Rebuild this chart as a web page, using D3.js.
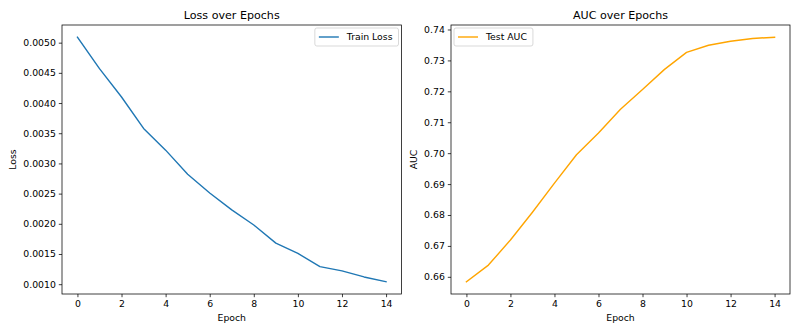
<!DOCTYPE html>
<html>
<head>
<meta charset="utf-8">
<script src="https://cdn.jsdelivr.net/npm/d3@7/dist/d3.min.js"></script>
<style>
  html, body { margin: 0; padding: 0; background: #fff; }
  svg { display: block; font-family: "DejaVu Sans", sans-serif; }
</style>
</head>
<body>
<svg id="chart" width="800" height="333"></svg>
<script>
// Training history per epoch
const epochs = [0, 1, 2, 3, 4, 5, 6, 7, 8, 9, 10, 11, 12, 13, 14];
const trainLoss = [0.00509, 0.00457, 0.00410, 0.00358, 0.00322, 0.00282, 0.00251, 0.00223,
                   0.00198, 0.00168, 0.00151, 0.00129, 0.00122, 0.00112, 0.00104];
const testAuc = [0.6584, 0.6638, 0.6719, 0.6809, 0.6903, 0.6995, 0.7065, 0.7142,
                 0.7206, 0.7271, 0.7326, 0.7349, 0.7362, 0.7371, 0.7375];

const xTicks = [0, 2, 4, 6, 8, 10, 12, 14];
const lossTicks = [0.0010, 0.0015, 0.0020, 0.0025, 0.0030, 0.0035, 0.0040, 0.0045, 0.0050];
const aucTicks = [0.66, 0.67, 0.68, 0.69, 0.70, 0.71, 0.72, 0.73, 0.74];

const svg = d3.select("#chart");

function panel(opts) {
  const { left, right, top, bottom, values, ticks, fmt, color, title, ylabel, ylabelGap, legend, legendLeft } = opts;
  const g = svg.append("g");

  // matplotlib-style 5% padding on both axes
  const xr = d3.extent(epochs), xpad = (xr[1] - xr[0]) * 0.05;
  const yr = d3.extent(values), ypad = (yr[1] - yr[0]) * 0.05;
  const x = d3.scaleLinear().domain([xr[0] - xpad, xr[1] + xpad]).range([left, right]);
  const y = d3.scaleLinear().domain([yr[0] - ypad, yr[1] + ypad]).range([bottom, top]);

  const line = d3.line().x((d, i) => x(epochs[i])).y(d => y(d));
  g.append("path")
    .datum(values)
    .attr("d", line)
    .attr("fill", "none")
    .attr("stroke", color)
    .attr("stroke-width", 1.4)
    .attr("stroke-linejoin", "round")
    .attr("stroke-linecap", "square");

  const xAxis = d3.axisBottom(x).tickValues(xTicks).tickSize(3.2).tickPadding(3).tickFormat(d3.format("d"));
  const yAxis = d3.axisLeft(y).tickValues(ticks).tickSize(3.2).tickPadding(3).tickFormat(fmt);

  const gx = g.append("g").attr("transform", `translate(0,${bottom})`).call(xAxis);
  const gy = g.append("g").attr("transform", `translate(${left},0)`).call(yAxis);
  [gx, gy].forEach(a => {
    a.select(".domain").remove();
    a.selectAll(".tick line").attr("stroke", "#000").attr("stroke-width", 0.75);
    a.selectAll(".tick text").attr("fill", "#000").style("font-size", "9.3px")
      .style("font-family", "'DejaVu Sans', sans-serif");
  });

  // frame
  g.append("rect")
    .attr("x", left).attr("y", top)
    .attr("width", right - left).attr("height", bottom - top)
    .attr("fill", "none").attr("stroke", "#000").attr("stroke-width", 0.75);

  g.append("text")
    .attr("x", (left + right) / 2).attr("y", 19)
    .attr("text-anchor", "middle")
    .style("font-size", "11.1px")
    .text(title);

  g.append("text")
    .attr("x", (left + right) / 2).attr("y", 321)
    .attr("text-anchor", "middle")
    .style("font-size", "9.3px")
    .text("Epoch");

  g.append("text")
    .attr("transform", `translate(${left - ylabelGap},${(top + bottom) / 2}) rotate(-90)`)
    .attr("text-anchor", "middle")
    .style("font-size", "9.3px")
    .text(ylabel);

  // legend, sized to its label
  const lg = g.append("g");
  const box = lg.append("rect");
  lg.append("line")
    .attr("x1", 4).attr("x2", 24).attr("y1", 9).attr("y2", 9)
    .attr("stroke", color).attr("stroke-width", 1.4);
  const lt = lg.append("text")
    .attr("x", 32).attr("y", 12.3)
    .style("font-size", "9.3px")
    .text(legend);
  const lw = 32 + lt.node().getComputedTextLength() + 6;
  box.attr("width", lw).attr("height", 18).attr("rx", 2)
    .attr("fill", "#fff").attr("fill-opacity", 0.8)
    .attr("stroke", "#ccc").attr("stroke-width", 0.75);
  const lx = legendLeft ? left + 3 : right - 3 - lw;
  lg.attr("transform", `translate(${lx},${top + 3})`);
}

panel({
  left: 62, right: 401.5, top: 25, bottom: 294,
  values: trainLoss, ticks: lossTicks, fmt: d3.format(".4f"),
  color: "#1f77b4", title: "Loss over Epochs", ylabel: "Loss", ylabelGap: 46,
  legend: "Train Loss", legendLeft: false
});

panel({
  left: 451, right: 790, top: 25, bottom: 294,
  values: testAuc, ticks: aucTicks, fmt: d3.format(".2f"),
  color: "#ffa500", title: "AUC over Epochs", ylabel: "AUC", ylabelGap: 34,
  legend: "Test AUC", legendLeft: true
});
</script>
</body>
</html>
